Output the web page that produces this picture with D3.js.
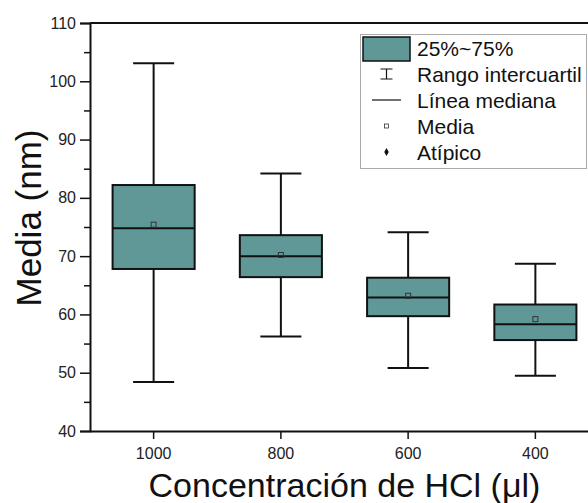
<!DOCTYPE html>
<html>
<head>
<meta charset="utf-8">
<script src="https://cdn.jsdelivr.net/npm/d3@7"></script>
<style>
  html, body { margin: 0; padding: 0; background: #fff; overflow: hidden; }
  svg { display: block; font-family: "Liberation Sans", Arial, sans-serif; }
</style>
</head>
<body>
<script>
(function () {
  "use strict";

  // one box per HCl volume
  var categories = ["1000", "800", "600", "400"];
  var q1 = [67.8, 66.4, 59.7, 55.6];
  var q3 = [82.2, 73.6, 66.3, 61.7];
  var medians = [74.8, 70.0, 62.9, 58.3];
  var means = [75.4, 70.2, 63.2, 59.2];
  var whiskerLow = [48.4, 56.2, 50.8, 49.5];
  var whiskerHigh = [103.1, 84.2, 74.1, 68.7];
  var legendLabels = ["25%~75%", "Rango intercuartil", "Línea mediana", "Media", "Atípico"];

  var width = 588, height = 503,
    left = 90, top = 23, bottom = 431, right = 599,
    fill = "#609898", ink = "#111",
    svg, x, y, boxes, legend, rowY;

  svg = d3.select("body").append("svg")
    .attr("width", width)
    .attr("height", height);

  x = d3.scaleBand()
    .domain(categories)
    .range([left, right])
    .paddingInner(0.355)
    .paddingOuter(0.1775);

  y = d3.scaleLinear()
    .domain([40, 110])
    .range([bottom, top]);

  // boxes
  boxes = svg.selectAll(".box")
    .data(categories)
    .enter().append("g")
    .attr("class", "box")
    .attr("transform", function (d) { return "translate(" + (x(d) + x.bandwidth() / 2) + ",0)"; });

  var bw = x.bandwidth(), cap = bw / 2;

  boxes.append("line")
    .attr("x1", 0).attr("x2", 0)
    .attr("y1", function (d, i) { return y(whiskerHigh[i]); })
    .attr("y2", function (d, i) { return y(whiskerLow[i]); })
    .attr("stroke", ink).attr("stroke-width", 2);

  boxes.append("line")
    .attr("x1", -cap / 2).attr("x2", cap / 2)
    .attr("y1", function (d, i) { return y(whiskerHigh[i]); })
    .attr("y2", function (d, i) { return y(whiskerHigh[i]); })
    .attr("stroke", ink).attr("stroke-width", 2);

  boxes.append("line")
    .attr("x1", -cap / 2).attr("x2", cap / 2)
    .attr("y1", function (d, i) { return y(whiskerLow[i]); })
    .attr("y2", function (d, i) { return y(whiskerLow[i]); })
    .attr("stroke", ink).attr("stroke-width", 2);

  boxes.append("rect")
    .attr("x", -bw / 2)
    .attr("width", bw)
    .attr("y", function (d, i) { return y(q3[i]); })
    .attr("height", function (d, i) { return y(q1[i]) - y(q3[i]); })
    .attr("fill", fill)
    .attr("stroke", ink).attr("stroke-width", 2);

  boxes.append("line")
    .attr("x1", -bw / 2).attr("x2", bw / 2)
    .attr("y1", function (d, i) { return y(medians[i]); })
    .attr("y2", function (d, i) { return y(medians[i]); })
    .attr("stroke", ink).attr("stroke-width", 2);

  boxes.append("rect")
    .attr("x", -2.5)
    .attr("y", function (d, i) { return y(means[i]) - 2.5; })
    .attr("width", 5).attr("height", 5)
    .attr("fill", "none")
    .attr("stroke", "#333").attr("stroke-width", 1);

  // axes
  var yAxis = svg.append("g")
    .attr("transform", "translate(" + left + ",0)")
    .call(d3.axisLeft(y).tickValues(d3.range(40, 111, 10)).tickSize(10).tickPadding(4));
  svg.append("g")
    .attr("transform", "translate(" + left + ",0)")
    .call(d3.axisLeft(y).tickValues(d3.range(45, 110, 10)).tickSize(6).tickFormat(""))
    .call(function (g) { g.select(".domain").remove(); });

  var xAxis = svg.append("g")
    .attr("transform", "translate(0," + bottom + ")")
    .call(d3.axisBottom(x).tickSize(8).tickPadding(9).tickSizeOuter(0));

  [yAxis, xAxis].forEach(function (g) {
    g.select(".domain").attr("stroke", ink).attr("stroke-width", 2);
    g.selectAll(".tick text").attr("font-size", 16).attr("fill", "#222")
      .attr("font-family", "Liberation Sans, Arial, sans-serif");
    g.selectAll(".tick line").attr("stroke", ink).attr("stroke-width", 1.5);
  });
  svg.selectAll(".tick line").attr("stroke", ink).attr("stroke-width", 1.5);

  svg.append("line")
    .attr("x1", left).attr("x2", width)
    .attr("y1", top).attr("y2", top)
    .attr("stroke", ink).attr("stroke-width", 2);

  // titles
  svg.append("text")
    .attr("transform", "translate(41," + 218 + ") rotate(-90)")
    .attr("text-anchor", "middle")
    .attr("font-size", 35)
    .attr("fill", ink)
    .text("Media (nm)");

  svg.append("text")
    .attr("x", (left + right) / 2)
    .attr("y", 497)
    .attr("text-anchor", "middle")
    .attr("font-size", 34)
    .attr("fill", ink)
    .text("Concentración de HCl (μl)");

  // legend
  legend = svg.append("g");
  legend.append("rect")
    .attr("x", 360.5).attr("y", 34.5)
    .attr("width", 226).attr("height", 134)
    .attr("fill", "#fff")
    .attr("stroke", "#aaa").attr("stroke-width", 1);

  rowY = function (i) { return 48 + i * 26; };

  legend.selectAll("text")
    .data(legendLabels)
    .enter().append("text")
    .attr("x", 417)
    .attr("y", function (d, i) { return rowY(i) + 7.5; })
    .attr("font-size", 21)
    .attr("fill", ink)
    .text(function (d) { return d; });

  legend.append("rect")
    .attr("x", 363).attr("y", 37)
    .attr("width", 47).attr("height", 24)
    .attr("fill", fill)
    .attr("stroke", ink).attr("stroke-width", 1.5);

  var sx = 386.5, ry = rowY(1);
  legend.append("path")
    .attr("d", "M" + (sx - 6) + "," + (ry - 5) + "H" + (sx + 6) +
      "M" + sx + "," + (ry - 5) + "V" + (ry + 5) +
      "M" + (sx - 6) + "," + (ry + 5) + "H" + (sx + 6))
    .attr("fill", "none").attr("stroke", ink).attr("stroke-width", 1.2);

  legend.append("line")
    .attr("x1", 372).attr("x2", 401)
    .attr("y1", rowY(2)).attr("y2", rowY(2))
    .attr("stroke", ink).attr("stroke-width", 1.2);

  legend.append("rect")
    .attr("x", sx - 2).attr("y", rowY(3) - 2)
    .attr("width", 4).attr("height", 4)
    .attr("fill", "none").attr("stroke", "#333").attr("stroke-width", 0.8);

  legend.append("path")
    .attr("d", d3.symbol(d3.symbolDiamond, 18)())
    .attr("transform", "translate(" + sx + "," + rowY(4) + ")")
    .attr("fill", ink);
})();
</script>
</body>
</html>
